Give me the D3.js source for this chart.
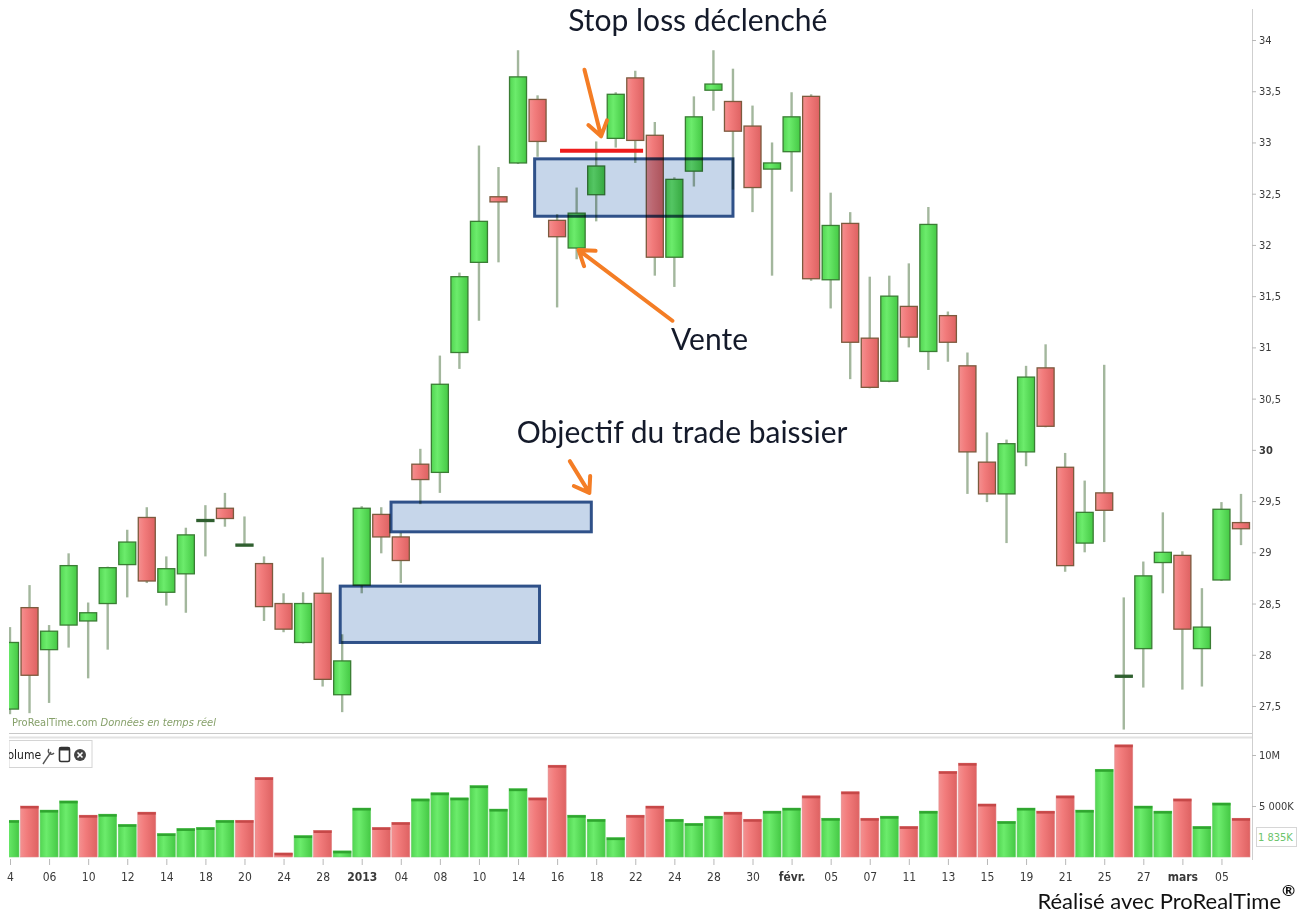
<!doctype html>
<html>
<head>
<meta charset="utf-8">
<title>Chandeliers et volume</title>
<style>
  body { margin:0; background:#fff; }
  svg { display:block; }
  .ax text { font-family:"Liberation Sans Narrow","DejaVu Sans Condensed","Liberation Sans",sans-serif; font-size:11px; fill:#3a3a3a; }
  .ax line { stroke:#b8b8b8; }
  .ax path { display:none; }
  .note { font-family:Lato,"Open Sans",sans-serif; font-size:30px; fill:#141a2a; }
</style>
</head>
<body>
<svg width="1303" height="913" id="chart"></svg>
<script src="https://d3js.org/d3.v7.min.js"></script>
<script>
// dates des séances (déc. 2012 - mars 2013)
var dates = ["04/12","05/12","06/12","07/12","10/12","11/12","12/12","13/12","14/12","17/12","18/12","19/12","20/12","21/12","24/12","27/12","28/12","31/12",
  "02/01","03/01","04/01","07/01","08/01","09/01","10/01","11/01","14/01","15/01","16/01","17/01","18/01","21/01","22/01","23/01","24/01","25/01","28/01","29/01","30/01","31/01",
  "01/02","04/02","05/02","06/02","07/02","08/02","11/02","12/02","13/02","14/02","15/02","18/02","19/02","20/02","21/02","22/02","25/02","26/02","27/02","28/02",
  "01/03","04/03","05/03","06/03"];
var open  = [27.47,28.46,28.05,28.29,28.33,28.50,28.88,29.34,28.61,28.79,29.32,29.43,29.08,28.89,28.50,28.12,28.60,27.61,28.68,29.37,29.15,29.86,29.78,30.95,31.83,32.47,32.80,33.42,32.24,31.97,32.49,33.04,33.63,33.07,31.88,32.72,33.51,33.40,33.16,32.74,32.91,33.45,31.66,32.21,31.09,30.67,31.40,30.96,31.31,30.82,29.88,29.57,29.98,30.80,29.83,29.09,29.58,27.80,28.06,28.90,28.97,28.06,28.73,29.29];
var high  = [28.27,28.68,28.29,28.99,28.51,28.86,29.22,29.44,28.96,29.24,29.46,29.58,29.35,28.96,28.60,28.61,28.95,28.20,29.45,29.44,29.19,30.01,30.92,31.73,32.97,32.76,33.90,33.46,32.30,32.56,33.01,33.49,33.70,33.20,32.66,33.45,33.90,33.72,33.36,33.00,33.49,33.47,32.51,32.32,31.69,31.70,31.82,32.37,31.35,30.95,30.17,30.10,30.82,31.03,29.97,29.70,30.83,28.56,28.91,29.39,29.01,28.65,29.49,29.57];
var low   = [27.42,27.43,27.53,28.07,27.77,28.05,28.56,28.70,28.48,28.41,28.96,29.25,29.07,28.33,28.22,28.11,27.69,27.44,28.60,28.99,28.70,29.47,29.58,30.79,31.26,31.83,32.79,32.86,31.39,31.86,32.23,32.95,32.80,31.70,31.59,32.57,33.31,32.54,32.32,31.70,32.52,31.65,31.38,30.69,30.60,30.66,31.00,30.78,30.86,29.57,29.49,29.09,29.84,30.22,28.81,29.00,29.10,27.27,27.68,28.60,27.66,27.69,28.72,29.07];
var close = [28.12,27.80,28.23,28.87,28.41,28.85,29.10,28.72,28.84,29.17,29.32,29.33,29.08,28.47,28.25,28.50,27.76,27.94,29.43,29.15,28.92,29.71,30.64,31.69,32.23,32.42,33.64,33.01,32.08,32.31,32.77,33.47,33.02,31.88,32.64,33.25,33.57,33.11,32.56,32.80,33.25,31.67,32.19,31.05,30.61,31.50,31.10,32.20,31.05,29.98,29.57,30.06,30.71,30.23,28.87,29.39,29.41,27.80,28.77,29.00,28.25,28.27,29.42,29.23];
// volume en millions de titres
var volume = [3.6,5.0,4.6,5.5,4.1,4.2,3.2,4.4,2.3,2.8,2.9,3.6,3.6,7.8,0.4,2.1,2.6,0.6,4.8,2.9,3.4,5.7,6.3,5.8,7.0,4.7,6.7,5.8,9.0,4.1,3.7,1.9,4.1,5.0,
  3.7,3.3,4.0,4.4,3.7,4.5,4.8,6.0,3.8,6.4,3.8,4.0,3.0,4.5,8.4,9.2,5.2,3.5,4.8,4.5,6.0,4.6,8.6,11.0,5.0,4.5,5.7,3.0,5.3,3.8];

var priceTicks = [27.5,28,28.5,29,29.5,30,30.5,31,31.5,32,32.5,33,33.5,34];
var volTicks = [5,10];
var volTickLabels = ["5 000K","10M"];
var dateTickIdx = [1,3,5,7,9,11,13,15,17,19,21,23,25,27,29,31,33,35,37,39,41,43,45,47,49,51,53,55,57,59,61,63];
var dateTickLabels = ["4","06","10","12","14","18","20","24","28","2013","04","08","10","14","16","18","22","24","28","30","févr.","05","07","11","13","15","19","21","25","27","mars","05"];
var boldLabels = ["2013","févr.","mars"];

// annotations en coordonnées (séance, cours)
var zones = [
  {i0:17.9, i1:28.1, p0:28.12, p1:28.67},
  {i0:20.5, i1:30.75, p0:29.20, p1:29.49},
  {i0:27.85, i1:38.0, p0:32.28, p1:32.84}
];
var stopLine = {i0:29.15, i1:33.4, p:32.92};
var arrows = [
  {i0:30.4, p0:33.71, i1:31.25, p1:33.06},
  {i0:34.9, p0:31.26, i1:30.1, p1:31.95},
  {i0:29.65, p0:29.89, i1:30.65, p1:29.58}
];
var notes = [
  {t:"Stop loss déclenché", i:36.2, p:34.09},
  {t:"Vente", i:36.8, p:30.97},
  {t:"Objectif du trade baissier", i:35.4, p:30.07}
];

var svg = d3.select("#chart");
var left = 9, axisX = 1252;
var x = d3.scaleLinear().domain([1, 64]).range([10, 1241]);
var y = d3.scaleLinear().domain([27.5, 34]).range([706, 40]);
var yv = d3.scaleLinear().domain([0, 10]).range([857, 755]);

var candles = dates.map(function(d, k) {
  return {i:k+1, date:d, o:open[k], h:high[k], l:low[k], c:close[k], v:volume[k],
          up: k === 0 ? true : close[k] >= close[k-1]};
});

var defs = svg.append("defs");
function grad(id, stops) {
  var g = defs.append("linearGradient").attr("id", id).attr("x1","0").attr("x2","1").attr("y1","0").attr("y2","0");
  stops.forEach(function(s){ g.append("stop").attr("offset", s[0]).attr("stop-color", s[1]); });
}
grad("gUp", [["0%","#52d552"],["35%","#6cec6c"],["100%","#45c945"]]);
grad("gDn", [["0%","#f49090"],["35%","#f27c7c"],["100%","#de6262"]]);
defs.append("clipPath").attr("id","cMain").append("rect").attr("x",left).attr("y",9).attr("width",axisX-left).attr("height",724);
defs.append("clipPath").attr("id","cVol").append("rect").attr("x",left).attr("y",739).attr("width",axisX-left).attr("height",119);

// séparateurs et axe vertical
svg.append("line").attr("x1",left).attr("x2",axisX).attr("y1",733.5).attr("y2",733.5).attr("stroke","#c8c8c8");
svg.append("line").attr("x1",left).attr("x2",axisX).attr("y1",737.5).attr("y2",737.5).attr("stroke","#e2e2e2").attr("stroke-width",2);
svg.append("line").attr("x1",axisX+0.5).attr("x2",axisX+0.5).attr("y1",9).attr("y2",860).attr("stroke","#cfcfcf");

// chandeliers
var main = svg.append("g").attr("clip-path","url(#cMain)");
var bw = 17;
main.selectAll("line.wick").data(candles).join("line").attr("class","wick")
  .attr("x1", function(d){ return x(d.i); }).attr("x2", function(d){ return x(d.i); })
  .attr("y1", function(d){ return y(d.h); }).attr("y2", function(d){ return y(d.l); })
  .attr("stroke","#a3b79d").attr("stroke-width",2.4);
main.selectAll("rect.body").data(candles).join("rect").attr("class","body")
  .attr("x", function(d){ return x(d.i) - bw/2; })
  .attr("width", bw)
  .attr("y", function(d){ return y(Math.max(d.o, d.c)); })
  .attr("height", function(d){ return Math.max(2, Math.abs(y(d.o) - y(d.c))); })
  .attr("fill", function(d){ return Math.abs(d.o - d.c) < 0.02 ? "#2f5f2f" : (d.c >= d.o ? "url(#gUp)" : "url(#gDn)"); })
  .attr("stroke", function(d){ return Math.abs(d.o - d.c) < 0.02 ? "#2f5f2f" : (d.c >= d.o ? "#3a7d34" : "#7c5a3e"); })
  .attr("stroke-width",1.3);

main.append("text").attr("x",12).attr("y",726)
  .style("font-family","'Liberation Sans Narrow','DejaVu Sans Condensed',sans-serif").style("font-size","11px").attr("fill","#86a06a")
  .text("ProRealTime.com ")
  .append("tspan").style("font-style","italic").text("Données en temps réel");

// zones d'annotation
var ann = svg.append("g");
ann.selectAll("rect.zone").data(zones).join("rect").attr("class","zone")
  .attr("x", function(d){ return x(d.i0); }).attr("width", function(d){ return x(d.i1) - x(d.i0); })
  .attr("y", function(d){ return y(d.p1); }).attr("height", function(d){ return y(d.p0) - y(d.p1); })
  .attr("fill","#c6d6ea").style("mix-blend-mode","multiply")
  .attr("stroke","#2f5189").attr("stroke-width",3);
ann.append("line").attr("x1",x(stopLine.i0)).attr("x2",x(stopLine.i1)).attr("y1",y(stopLine.p)).attr("y2",y(stopLine.p))
  .attr("stroke","#ee1c1c").attr("stroke-width",4);

arrows.forEach(function(a) {
  var x0 = x(a.i0), y0 = y(a.p0), x1 = x(a.i1), y1 = y(a.p1);
  var ang = Math.atan2(y1 - y0, x1 - x0), L = 17, s = 0.6;
  var path = d3.path();
  path.moveTo(x0, y0); path.lineTo(x1, y1);
  path.moveTo(x1 - L*Math.cos(ang - s), y1 - L*Math.sin(ang - s));
  path.lineTo(x1, y1);
  path.lineTo(x1 - L*Math.cos(ang + s), y1 - L*Math.sin(ang + s));
  ann.append("path").attr("d", path.toString()).attr("fill","none")
    .attr("stroke","#f47d25").attr("stroke-width",4).attr("stroke-linecap","round").attr("stroke-linejoin","round");
});

ann.selectAll("text.note").data(notes).join("text").attr("class","note")
  .attr("x", function(d){ return x(d.i); }).attr("y", function(d){ return y(d.p); })
  .attr("text-anchor","middle").text(function(d){ return d.t; });

// axe des cours
var ya = svg.append("g").attr("class","ax").attr("transform","translate(" + axisX + ",0)")
  .call(d3.axisRight(y).tickValues(priceTicks).tickSize(4).tickPadding(3)
    .tickFormat(function(d){ return String(d).replace(".", ","); }));
ya.selectAll("text").style("font-weight", function(d){ return d === 30 ? "bold" : null; });

// volume
var vol = svg.append("g").attr("clip-path","url(#cVol)");
var vw = 18;
vol.selectAll("rect.vb").data(candles).join("rect").attr("class","vb")
  .attr("x", function(d){ return x(d.i) - vw/2; }).attr("width", vw)
  .attr("y", function(d){ return yv(d.v); }).attr("height", function(d){ return yv(0) - yv(d.v); })
  .attr("fill", function(d){ return d.up ? "url(#gUp)" : "url(#gDn)"; })
  .attr("stroke", function(d){ return d.up ? "#6fcf6f" : "#e08a8a"; }).attr("stroke-width",0.6);
vol.selectAll("rect.vt").data(candles).join("rect").attr("class","vt")
  .attr("x", function(d){ return x(d.i) - vw/2; }).attr("width", vw)
  .attr("y", function(d){ return yv(d.v); }).attr("height", 2.5)
  .attr("fill", function(d){ return d.up ? "#2fa52f" : "#c64848"; });

// étiquette Volume
var vl = svg.append("g").attr("clip-path","url(#cVol)");
vl.append("rect").attr("x",left).attr("y",740.5).attr("width",83).attr("height",27).attr("fill","#fff").attr("stroke","#d4d4d4");
vl.append("text").attr("x",1).attr("y",759).style("font-family","'Liberation Sans Narrow','DejaVu Sans Condensed',sans-serif")
  .style("font-size","12px").attr("fill","#222").text("Volume");
// clé, fenêtre, fermer
vl.append("path").attr("d","M43,764 L51,752 M49,749 a3,3 0 1 0 5,4").attr("fill","none").attr("stroke","#555").attr("stroke-width",1.4);
vl.append("rect").attr("x",59.5).attr("y",747.5).attr("width",10).attr("height",14).attr("rx",1.5).attr("fill","#fff").attr("stroke","#333").attr("stroke-width",1.6);
vl.append("rect").attr("x",59.5).attr("y",747.5).attr("width",10).attr("height",3).attr("fill","#333");
vl.append("circle").attr("cx",80).attr("cy",755).attr("r",6).attr("fill","#444");
vl.append("path").attr("d","M77.5,752.5 L82.5,757.5 M82.5,752.5 L77.5,757.5").attr("stroke","#fff").attr("stroke-width",1.6);

svg.append("g").attr("class","ax").attr("transform","translate(" + axisX + ",0)")
  .call(d3.axisRight(yv).tickValues(volTicks).tickSize(4).tickPadding(3)
    .tickFormat(function(d, k){ return volTickLabels[k]; }));
svg.append("rect").attr("x",1256.5).attr("y",827.5).attr("width",40).attr("height",19).attr("fill","#fff").attr("stroke","#d6d6d6");
svg.append("text").attr("x",1258).attr("y",841).style("font-family","'Liberation Sans Narrow','DejaVu Sans Condensed',sans-serif")
  .style("font-size","11px").attr("fill","#6cc46c").text("1 835K");

// axe des dates
var xa = svg.append("g").attr("class","ax").attr("transform","translate(0,859)")
  .call(d3.axisBottom(x).tickValues(dateTickIdx).tickSize(6).tickPadding(7)
    .tickFormat(function(d, k){ return dateTickLabels[k]; }));
xa.selectAll("text")
  .style("font-size","12px")
  .style("font-weight", function(d, k){ return boldLabels.indexOf(dateTickLabels[k]) >= 0 ? "bold" : null; })
  .attr("fill", function(d, k){ return boldLabels.indexOf(dateTickLabels[k]) >= 0 ? "#111" : "#3a3a3a"; });

// crédit
svg.append("text").attr("x",1281).attr("y",909).attr("text-anchor","end")
  .style("font-family","Lato,'Open Sans',sans-serif").style("font-size","22px").attr("fill","#111")
  .text("Réalisé avec ProRealTime");
svg.append("text").attr("x",1282).attr("y",896).style("font-family","Lato,'Open Sans',sans-serif")
  .style("font-size","16px").style("font-weight","bold").attr("fill","#111").text("®");
</script>
</body>
</html>
